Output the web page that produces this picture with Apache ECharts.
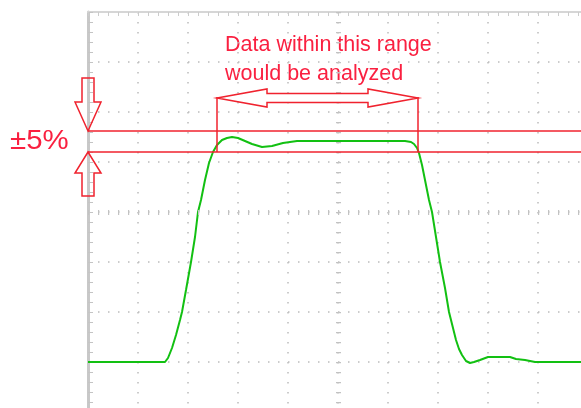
<!DOCTYPE html>
<html>
<head>
<meta charset="utf-8">
<script src="https://cdn.jsdelivr.net/npm/echarts@6/dist/echarts.min.js"></script>
<style>
html,body{margin:0;padding:0;background:#ffffff;}
#chart{width:581px;height:408px;}
</style>
</head>
<body>
<div id="chart"></div>
<script>
// ---- data (time in screen units 0..500, amplitude in screen units 0..400) ----
const traceTime = [0, 77, 80, 84, 88, 92, 94, 98, 103, 107, 110, 113, 117, 121, 125, 129, 134, 139, 144, 150, 157, 164, 174, 184, 195, 209, 232, 262, 292, 317, 323, 326, 329, 331, 334, 338, 341, 344, 348, 352, 357, 361, 365, 368, 371, 374, 378, 382, 386, 392, 400, 412, 422, 428, 437, 447, 493];
const traceLevel = [50, 50, 54, 64, 77, 92, 100, 122, 150, 175, 200, 212, 232, 249, 260, 267, 272, 274, 275, 274, 271, 268, 265, 266, 269, 271, 271, 271, 271, 271, 270, 268, 264, 259, 247, 227, 212, 200, 175, 150, 124, 100, 84, 72, 63, 57, 51, 49, 50, 52, 55, 55, 55, 53, 52, 50, 50];
const toleranceBand = [260, 281];          // ±5% limits
const windowBounds = [128.5, 330];        // analysed range (time)
const windowArrowLevel = 314;             // level of the double arrow
const axisRange = { xMin: 0, xMax: 500, yMin: 0, yMax: 400, step: 50 };
const labelMain = ['Data within this range', 'would be analyzed'];
const labelBand = '±5%';

// ---- styles ----
const RED = '#f0222e';
const TEXT_RED = '#fa2040';
const GREEN = '#12c012';
const GRID_DOT = '#bcbcbc';

const traceData = traceTime.map((t, i) => [t, traceLevel[i]]);

function arrowPoints(tip, dir, headLen, headHalf, shaftHalf, shaftLen) {
  const tx = tip[0], ty = tip[1], dx = dir[0], dy = dir[1];
  const px = -dy, py = dx;
  const bx = tx - dx * headLen, by = ty - dy * headLen;
  const ex = bx - dx * shaftLen, ey = by - dy * shaftLen;
  return [
    [tx, ty],
    [bx + px * headHalf, by + py * headHalf],
    [bx + px * shaftHalf, by + py * shaftHalf],
    [ex + px * shaftHalf, ey + py * shaftHalf],
    [ex - px * shaftHalf, ey - py * shaftHalf],
    [bx - px * shaftHalf, by - py * shaftHalf],
    [bx - px * headHalf, by - py * headHalf]
  ];
}

function doubleArrow(x0, x1, yc, headLen, headHalf, shaftHalf) {
  return [
    [x0, yc],
    [x0 + headLen, yc + headHalf],
    [x0 + headLen, yc + shaftHalf],
    [x1 - headLen, yc + shaftHalf],
    [x1 - headLen, yc + headHalf],
    [x1, yc],
    [x1 - headLen, yc - headHalf],
    [x1 - headLen, yc - shaftHalf],
    [x0 + headLen, yc - shaftHalf],
    [x0 + headLen, yc - headHalf]
  ];
}

const arrowShapes = [
  arrowPoints([0, toleranceBand[1]], [0, -1], 29, 13, 6, 24),
  arrowPoints([0, toleranceBand[0]], [0, 1], 21, 13, 6, 23),
  doubleArrow(windowBounds[0] + 0.5, windowBounds[1], windowArrowLevel, 50, 9, 4.5)
];

const chart = echarts.init(document.getElementById('chart'), null, { renderer: 'canvas' });

const noLabel = { show: false };
const option = {
  animation: false,
  backgroundColor: '#ffffff',
  grid: { left: 88, top: 12, width: 500, height: 400, containLabel: false, outerBoundsMode: 'none' },
  xAxis: {
    type: 'value', position: 'top',
    min: axisRange.xMin, max: axisRange.xMax, interval: axisRange.step,
    axisLine: { show: true, onZero: false, lineStyle: { color: '#d6d6d6', width: 2 } },
    axisTick: { show: true, inside: true, length: 4, lineStyle: { color: '#cccccc' } },
    minorTick: { show: true, splitNumber: 5, length: 4, lineStyle: { color: '#cccccc' } },
    axisLabel: { show: false },
    splitLine: { show: true, lineStyle: { color: GRID_DOT, width: 1.5, type: [1.5, 8.5] } },
    minorSplitLine: { show: false }
  },
  yAxis: {
    type: 'value',
    min: axisRange.yMin, max: axisRange.yMax, interval: axisRange.step,
    axisLine: { show: true, onZero: false, lineStyle: { color: '#c8c8c8', width: 3 } },
    axisTick: { show: true, inside: true, length: 5, lineStyle: { color: '#c4c4c4' } },
    minorTick: { show: true, splitNumber: 5, length: 5, lineStyle: { color: '#c4c4c4' } },
    axisLabel: { show: false },
    splitLine: { show: true, lineStyle: { color: GRID_DOT, width: 1.5, type: [1.5, 8.5] } }
  },
  graphic: [
    { type: 'text', x: 225, y: 34, silent: true,
      style: { text: labelMain[0], fill: TEXT_RED, font: '21.5px "Liberation Sans", Arial, sans-serif', verticalAlign: 'top' } },
    { type: 'text', x: 225, y: 63, silent: true,
      style: { text: labelMain[1], fill: TEXT_RED, font: '21.5px "Liberation Sans", Arial, sans-serif', verticalAlign: 'top' } },
    { type: 'text', x: 10, y: 127, scaleX: 1.05, silent: true,
      style: { text: labelBand, fill: TEXT_RED, font: '28px "Liberation Sans", Arial, sans-serif', verticalAlign: 'top' } }
  ],
  series: [
    {
      // centre graticule lines with tick marks
      type: 'line', data: [], silent: true, z: 1,
      markLine: {
        silent: true, symbol: ['none', 'none'], label: noLabel, animation: false,
        lineStyle: { color: '#c2c2c2', width: 5, type: [1.2, 8.8] },
        emphasis: { disabled: true },
        data: [
          [{ coord: [0, 200] }, { coord: [500, 200] }],
          [{ coord: [250, 400] }, { coord: [250, 0] }]
        ]
      }
    },
    {
      name: 'signal', type: 'line', data: traceData, showSymbol: false, symbol: 'none',
      lineStyle: { color: GREEN, width: 2 }, z: 3, clip: true
    },
    {
      type: 'line', data: [], silent: true, z: 4,
      markLine: {
        silent: true, symbol: ['none', 'none'], label: noLabel, animation: false,
        lineStyle: { color: RED, width: 1.5, type: 'solid' },
        emphasis: { disabled: true },
        data: [
          [{ coord: [0, toleranceBand[1]] }, { coord: [500, toleranceBand[1]] }],
          [{ coord: [0, toleranceBand[0]] }, { coord: [500, toleranceBand[0]] }],
          [{ coord: [windowBounds[0], windowArrowLevel + 1] }, { coord: [windowBounds[0], toleranceBand[0]] }],
          [{ coord: [windowBounds[1], windowArrowLevel + 1] }, { coord: [windowBounds[1], toleranceBand[0]] }]
        ]
      }
    },
    {
      type: 'custom', data: [[0, 0]], silent: true, z: 5, clip: false,
      renderItem: function (params, api) {
        return {
          type: 'group',
          children: arrowShapes.map(function (pts) {
            return {
              type: 'polygon',
              shape: { points: pts.map(function (p) { return api.coord(p); }) },
              style: { fill: 'none', stroke: RED, lineWidth: 1.5 }
            };
          })
        };
      }
    }
  ]
};
chart.setOption(option);
</script>
</body>
</html>
